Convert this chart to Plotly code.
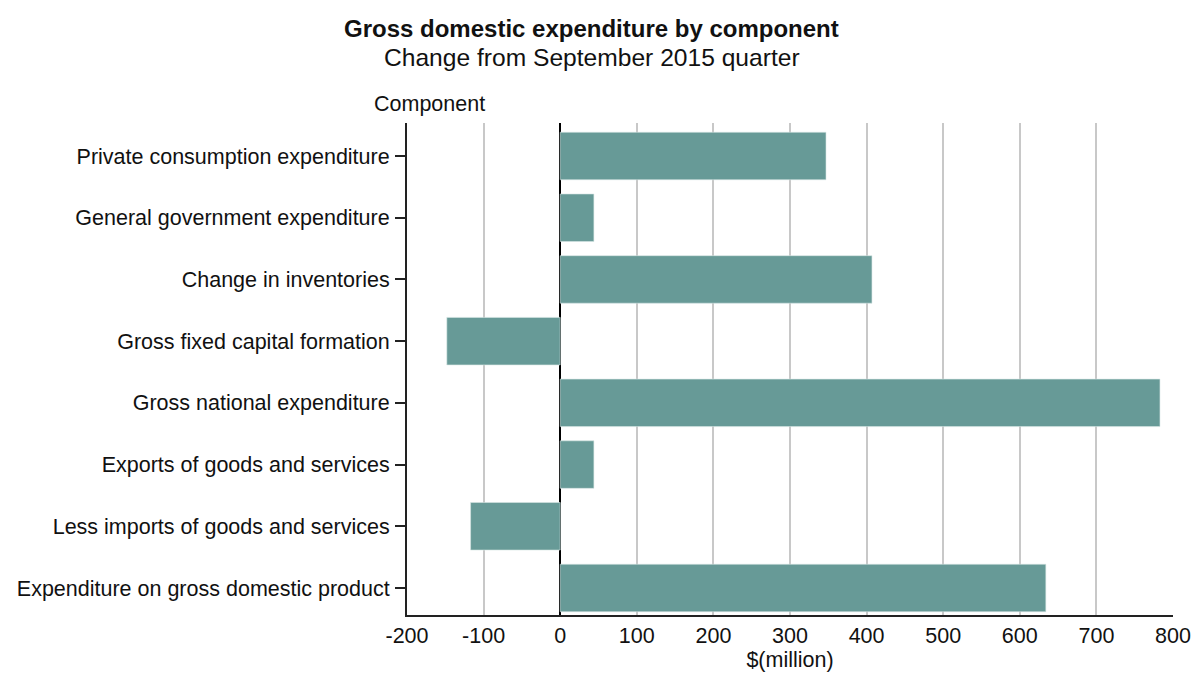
import plotly.graph_objects as go

categories = [
    "Private consumption expenditure",
    "General government expenditure",
    "Change in inventories",
    "Gross fixed capital formation",
    "Gross national expenditure",
    "Exports of goods and services",
    "Less imports of goods and services",
    "Expenditure on gross domestic product",
]
values = [347, 44, 407, -148, 783, 44, -117, 634]
x_ticks = [-200, -100, 0, 100, 200, 300, 400, 500, 600, 700, 800]

FONT = "Liberation Sans, Arial, sans-serif"
BAR_COLOR = "#679a97"
TXT = "#111111"

fig = go.Figure(
    go.Bar(
        x=values,
        y=categories,
        orientation="h",
        marker=dict(color=BAR_COLOR, line=dict(color="#d6e6e4", width=0.6)),
        width=0.77,
        hoverinfo="x+y",
    )
)

fig.update_layout(
    width=1194,
    height=673,
    margin=dict(l=407, r=21, t=123, b=58, autoexpand=False),
    paper_bgcolor="white",
    plot_bgcolor="white",
    font=dict(family=FONT, size=21.5, color=TXT),
    showlegend=False,
    annotations=[
        dict(text="<b>Gross domestic expenditure by component</b>", xref="paper", yref="paper",
             x=0.2412, y=1.193, showarrow=False, font=dict(size=24, family=FONT, color=TXT),
             xanchor="center", yanchor="middle"),
        dict(text="Change from September 2015 quarter", xref="paper", yref="paper",
             x=0.2412, y=1.134, showarrow=False, font=dict(size=24.6, family=FONT, color=TXT),
             xanchor="center", yanchor="middle"),
        dict(text="Component", xref="paper", yref="paper",
             x=0.1045, y=1.0386, showarrow=False, font=dict(size=21.5, family=FONT, color=TXT),
             xanchor="right", yanchor="middle"),
    ],
)

fig.update_xaxes(
    range=[-200, 800],
    tickvals=x_ticks,
    ticktext=[str(v) for v in x_ticks],
    automargin=False,
    ticklabeloverflow="allow",
    showgrid=True,
    gridcolor="#c8c8c8",
    gridwidth=1.5,
    zeroline=True,
    zerolinecolor="#000000",
    zerolinewidth=1.5,
    showline=True,
    linecolor="#222222",
    linewidth=2,
    ticks="",
    title=dict(text="$(million)", font=dict(size=21.5, family=FONT), standoff=5),
    tickfont=dict(size=21.5, family=FONT),
)

fig.update_yaxes(
    categoryorder="array",
    categoryarray=categories,
    range=[7.4375, -0.535],
    automargin=False,
    showgrid=False,
    zeroline=False,
    showline=True,
    linecolor="#222222",
    linewidth=2,
    ticks="outside",
    ticklen=10,
    tickcolor="#222222",
    tickwidth=2,
    ticklabelstandoff=1,
    tickfont=dict(size=21.5, family=FONT),
)

fig.write_html(
    "out.html",
    config={"displayModeBar": False},
    post_script="document.body.style.margin='0';document.body.style.overflow='hidden';",
)
